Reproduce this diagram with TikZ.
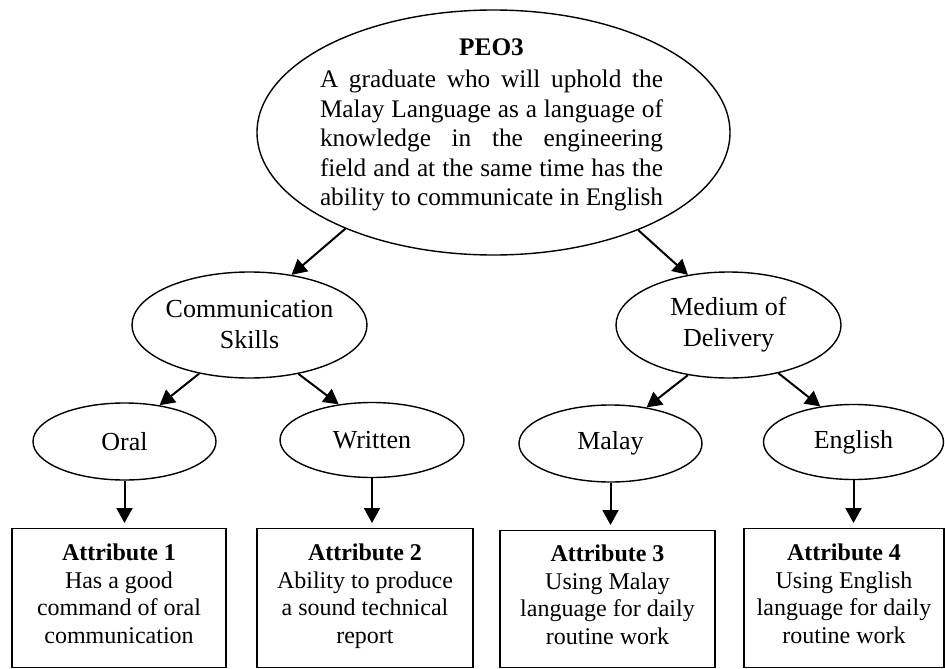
\documentclass[tikz,border=0pt]{standalone}
\usepackage{fontspec}
\setmainfont{Liberation Serif}
\usetikzlibrary{arrows.meta,shapes.geometric}
\newcommand{\lastdepth}{\rule[-9pt]{0pt}{9pt}}
\begin{document}
\begin{tikzpicture}[x=1pt,y=-1pt,
  ell/.style={draw, line width=1.4pt, ellipse, inner sep=0pt, align=center,
              font=\fontsize{26}{31}\selectfont},
  attr/.style={draw, line width=1.4pt, rectangle, inner sep=0pt, align=center,
               anchor=north, minimum height=139pt, font=\fontsize{24}{27.5}\selectfont},
  arr/.style={line width=2pt, -{Triangle[length=15pt,width=16pt]}}
]
\useasboundingbox (0,0) rectangle (945,669);

% top ellipse
\node[draw, line width=1.4pt, ellipse, minimum width=473pt, minimum height=245pt, inner sep=0pt] (peo) at (493.5,132.5) {};
\node[inner sep=0pt, font=\fontsize{25.3}{29.5}\selectfont] (peotext) at (491.5,125) {\parbox{343pt}{%
  \makebox[343pt][c]{\textbf{PEO3}}\\[2.5pt]
  \makebox[343pt][s]{A graduate who will uphold the}\\
  \makebox[343pt][s]{Malay Language as a language of}\\
  \makebox[343pt][s]{knowledge in the engineering}\\
  \makebox[343pt][s]{field and at the same time has the}\\
  \makebox[343pt][s]{ability to communicate in English}}};

% level 2
\node[ell, inner xsep=-2pt, minimum width=235pt, minimum height=106pt] (comm) at (249.5,325) {Communication\\Skills};
\node[ell, minimum width=225pt, minimum height=106pt] (med) at (728.5,325) {Medium of\\Delivery};

% level 3
\node[ell, minimum width=183pt, minimum height=77pt] (oral) at (124.5,441.5) {Oral};
\node[ell, minimum width=184pt, minimum height=75pt] (written) at (372,440) {Written};
\node[ell, minimum width=183pt, minimum height=77pt] (malay) at (610.5,443.5) {Malay};
\node[ell, minimum width=180pt, minimum height=75pt] (english) at (853.5,442) {English};

% boxes
\node[attr, minimum width=214pt] (b1) at (119,528) {\textbf{Attribute 1}\\Has a good\\command of oral\\communication\lastdepth};
\node[attr, minimum width=216pt] (b2) at (365,528) {\textbf{Attribute 2}\\Ability to produce\\a sound technical\\report\lastdepth};
\node[attr, minimum width=215pt, minimum height=137pt] (b3) at (607.5,530) {\textbf{Attribute 3}\\Using Malay\\language for daily\\routine work\lastdepth};
\node[attr, minimum width=200pt] (b4) at (844,528) {\textbf{Attribute 4}\\Using English\\language for daily\\routine work\lastdepth};

% connectors
\draw[arr] (peo.213) -- (comm.50);
\draw[arr] (peo.326) -- (med.129);
\draw[arr] (comm.224) -- (oral.46);
\draw[arr] (comm.315) -- (written.133);
\draw[arr] (med.231) -- (malay.45);
\draw[arr] (med.316) -- (english.133);
\draw[arr, shorten >=5pt] (oral.south) -- (oral.south |- b1.north);
\draw[arr, shorten >=5pt] (written.south) -- (written.south |- b2.north);
\draw[arr, shorten >=5pt] (malay.south) -- (malay.south |- b3.north);
\draw[arr, shorten >=5pt] (english.south) -- (english.south |- b4.north);
\end{tikzpicture}
\end{document}
